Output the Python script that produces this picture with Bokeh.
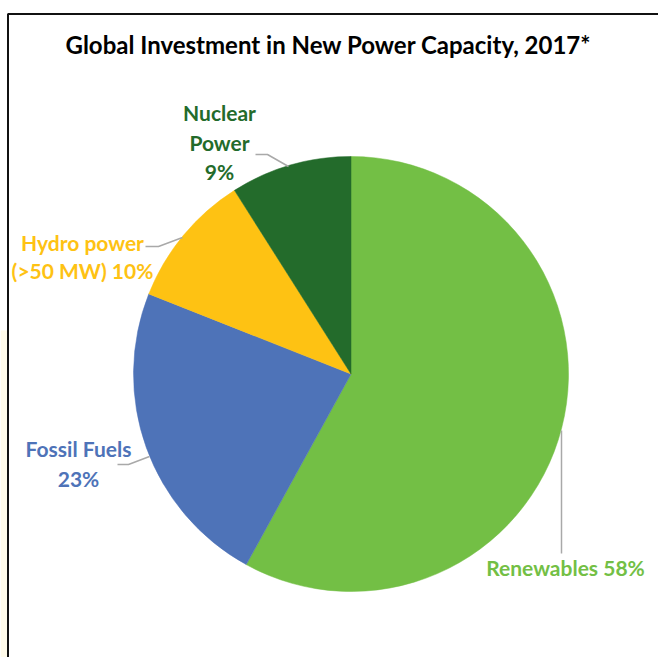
import math
from bokeh.plotting import figure
from bokeh.models import Range1d
from bokeh.core.properties import value
from bokeh.embed import file_html
from bokeh.resources import INLINE

# ---- data ----
categories = ["Renewables", "Fossil Fuels", "Hydro power (>50 MW)", "Nuclear Power"]
shares = [58, 23, 10, 9]
colors = ["#73bf45", "#4e73b8", "#fec213", "#236b2b"]
label_lines = [["Renewables 58%"], ["Fossil Fuels", "23%"], ["Hydro power", "(>50 MW) 10%"], ["Nuclear", "Power", "9%"]]
title_text = "Global Investment in New Power Capacity, 2017*"

W, H = 658, 657
FONT = value("Lato")

def Y(ypix):
    return H - ypix

p = figure(width=W, height=H, output_backend="svg", toolbar_location=None,
           x_range=Range1d(0, W), y_range=Range1d(0, H), min_border=0)
p.axis.visible = False
p.grid.visible = False
p.outline_line_color = None
p.background_fill_color = "white"
p.border_fill_color = "white"

# faint cream margin at lower left
p.quad(left=0, right=6.5, bottom=0, top=Y(330), fill_color="#fffbea", line_color=None)

# frame lines
p.line(x=[7.5, 7.5, W + 2], y=[-2, Y(13.5), Y(13.5)], line_color="#111111", line_width=2)

# pie
cx, cy, r = 350.5, Y(373.5), 217.5
total = float(sum(shares))
cum = 0.0
starts, ends = [], []
for s in shares:
    starts.append(math.pi / 2 - 2 * math.pi * cum / total)
    cum += s
    ends.append(math.pi / 2 - 2 * math.pi * cum / total)
p.wedge(x=[cx] * len(shares), y=[cy] * len(shares), radius=r,
        start_angle=starts, end_angle=ends, direction="clock",
        fill_color=colors, line_color=colors, line_width=0.5)

# leader lines
leader = "#a9a9a9"
p.line(x=[561, 561], y=[Y(430), Y(553)], line_color=leader, line_width=1.5)
p.line(x=[117, 128, 149], y=[Y(464), Y(464), Y(456)], line_color=leader, line_width=1.5)
p.line(x=[145, 158, 182], y=[Y(246), Y(246), Y(237)], line_color=leader, line_width=1.5)
p.line(x=[255, 267, 288], y=[Y(154), Y(154), Y(166)], line_color=leader, line_width=1.5)

# labels
label_pos = [(565, 567), (78, 447.5), (82, 242), (219, 112)]
line_gap = [0, 30, 28, 29.5]
for lines, (lx, ly), gap, col in zip(label_lines, label_pos, line_gap, colors):
    xs = [lx] * len(lines)
    ys = [Y(ly + i * gap) for i in range(len(lines))]
    p.text(x=xs, y=ys, text=lines, text_font=FONT, text_font_style="bold",
           text_font_size="21px", text_color=col, text_align="center",
           text_baseline="middle")

# title
p.text(x=[328], y=[Y(44)], text=[title_text], text_font=FONT, text_font_style="bold",
       text_font_size="24px", text_color="#000000", text_align="center",
       text_baseline="middle")

open("out.html", "w").write(file_html(p, INLINE))
